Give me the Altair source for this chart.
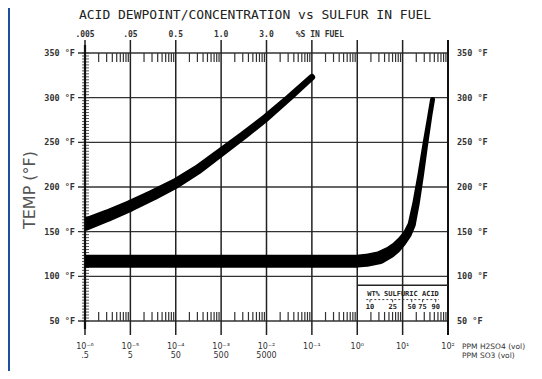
import altair as alt
import pandas as pd
import numpy as np

# ---- data ----
upper_log = [-6, -5.5, -5, -4.5, -4, -3.5, -3, -2.5, -2, -1.5, -1]
upper_temp = [158, 168, 179, 191, 204, 220, 239, 258, 278, 300, 323]

lower_log = [-6, -5, -4, -3, -2, -1, 0, 0.2, 0.5, 0.72, 0.85, 0.98, 1.1, 1.2, 1.3, 1.4, 1.5, 1.6, 1.66]
lower_temp = [117, 117, 117, 117, 117, 117, 117, 118, 121, 127, 132, 139, 147, 158, 183, 214, 248, 280, 298]

decades = [-6, -5, -4, -3, -2, -1, 0, 1, 2]
bottom_exp_labels = ["10⁻⁶", "10⁻⁵", "10⁻⁴", "10⁻³", "10⁻²", "10⁻¹", "10⁰", "10¹", "10²"]
bottom_so3_labels = [".5", "5", "50", "500", "5000", "", "", "", ""]
top_sulfur_labels = [".005", ".05", "0.5", "1.0", "3.0"]
top_last_label = "%S IN FUEL"
temp_ticks = [50, 100, 150, 200, 250, 300, 350]
acid_labels = ["10", "25", "50", "75", "90"]
acid_log = [0.28, 0.78, 1.2, 1.44, 1.73]
unit_labels = ["PPM H2SO4 (vol)", "PPM SO3 (vol)"]

W, H = 363, 268
xs = alt.Scale(type="log", domain=[1e-6, 1e2])
ys = alt.Scale(domain=[50, 350])
MONO = "DejaVu Sans Mono"
SANS = "DejaVu Sans"

up = pd.DataFrame({"lx": upper_log, "t": upper_temp})
up["x"] = 10.0 ** up["lx"]
lo = pd.DataFrame({"lx": lower_log, "t": lower_temp})
lo["x"] = 10.0 ** lo["lx"]

dec = pd.DataFrame({"lx": decades, "lab1": bottom_exp_labels, "lab2": bottom_so3_labels})
dec["x"] = 10.0 ** dec["lx"]
top = dec.iloc[: len(top_sulfur_labels)].copy()
top["lab"] = top_sulfur_labels
lastd = dec.iloc[[len(top_sulfur_labels)]].copy()
lastd["lab"] = [top_last_label]

minor = pd.DataFrame({"x": [d * 10.0 ** e for e in decades[:-1] for d in range(2, 10)]})
temps = pd.DataFrame({"t": temp_ticks})
temps["lab"] = [f"{v} °F" for v in temp_ticks]
ruler = pd.DataFrame({"t": np.arange(50, 350.01, 10 / 3)})
one = temps.iloc[[0]]

X = lambda f="x": alt.X(f"{f}:Q", scale=xs, axis=None)
Y = lambda f="t": alt.Y(f"{f}:Q", scale=ys, axis=None)

hgrid = alt.Chart(temps).mark_rule(color="#333", strokeWidth=1.3).encode(
    y=Y(), x=alt.value(-7), x2=alt.value(W))
vgrid = alt.Chart(dec).mark_rule(color="#222", strokeWidth=1.5).encode(
    x=X(), y=alt.value(-13), y2=alt.value(H + 14))
mtop = alt.Chart(minor).mark_rule(color="#333", strokeWidth=1.2).encode(
    x=X(), y=alt.value(0), y2=alt.value(9))
mbot = alt.Chart(minor).mark_rule(color="#333", strokeWidth=1.2).encode(
    x=X(), y=alt.value(H - 9), y2=alt.value(H))
lruler = alt.Chart(ruler).mark_rule(color="#444", strokeWidth=0.9).encode(
    y=Y(), x=alt.value(-3), x2=alt.value(4))
laxis = alt.Chart(one).mark_rule(color="#111", strokeWidth=2.2).encode(
    x=alt.value(0), y=alt.value(-8), y2=alt.value(H + 8))
raxis = alt.Chart(one).mark_rule(color="#111", strokeWidth=2).encode(
    x=alt.value(W), y=alt.value(-13), y2=alt.value(H + 14))

upper = alt.Chart(up).transform_calculate(
    w="13 - 1.3*(datum.lx + 6)").mark_trail(color="black", clip=True).encode(
    x=X(), y=Y(), size=alt.Size("w:Q", scale=None, legend=None))
lower = alt.Chart(lo).transform_calculate(
    w="datum.lx < 0.6 ? 13 : max(5, 13 - 8*(datum.lx - 0.6))").mark_trail(color="black", clip=True).encode(
    x=X(), y=Y(), size=alt.Size("w:Q", scale=None, legend=None))

llab = alt.Chart(temps).mark_text(align="right", baseline="middle", font=MONO, fontSize=8.5,
                                  color="#333", fontWeight="bold").encode(
    y=Y(), x=alt.value(-10), text="lab:N")
rlab = alt.Chart(temps).mark_text(align="left", baseline="middle", font=MONO, fontSize=8.5,
                                  color="#333", fontWeight="bold").encode(
    y=Y(), x=alt.value(W + 9), text="lab:N")

ytitle = alt.Chart(one).mark_text(angle=270, font=SANS, fontSize=16, color="#555",
                                  baseline="middle", align="center").encode(
    x=alt.value(-55), y=alt.value(137), text=alt.value("TEMP  (°F)"))
title = alt.Chart(one).mark_text(font=MONO, fontSize=13, color="#222",
                                 baseline="middle", align="center").encode(
    x=alt.value(170), y=alt.value(-38), text=alt.value("ACID DEWPOINT/CONCENTRATION vs SULFUR IN FUEL"))

toplab = alt.Chart(top).mark_text(font=MONO, fontSize=8, fontWeight="bold", color="#333",
                                  baseline="middle").encode(
    x=X(), y=alt.value(-18), text="lab:N")
toplast = alt.Chart(lastd).mark_text(font=MONO, fontSize=8, fontWeight="bold", color="#333",
                                     baseline="middle", dx=8).encode(
    x=X(), y=alt.value(-18), text="lab:N")
bot1 = alt.Chart(dec).mark_text(font=SANS, fontSize=8, color="#333", baseline="middle").encode(
    x=X(), y=alt.value(H + 26), text="lab1:N")
bot2 = alt.Chart(dec).mark_text(font=SANS, fontSize=8, color="#333", baseline="middle").encode(
    x=X(), y=alt.value(H + 35), text="lab2:N")
unit1 = alt.Chart(one).mark_text(font=SANS, fontSize=7.5, color="#333", align="left",
                                 baseline="middle").encode(
    x=alt.value(W + 14), y=alt.value(H + 26), text=alt.value(unit_labels[0]))
unit2 = alt.Chart(one).mark_text(font=SANS, fontSize=7.5, color="#333", align="left",
                                 baseline="middle").encode(
    x=alt.value(W + 14), y=alt.value(H + 35), text=alt.value(unit_labels[1]))

# acid box
box = pd.DataFrame({"x": [1.0], "x2": [100.0], "t": [90]})
boxline = alt.Chart(box).mark_rule(color="#222", strokeWidth=1.3).encode(
    x=X(), x2="x2:Q", y=Y())
acid = pd.DataFrame({"lx": acid_log, "lab": acid_labels})
acid["x"] = 10.0 ** acid["lx"]
acid["t1"] = 74
acid["t2"] = 71
acid["t3"] = 66
acidtxt = alt.Chart(box).mark_text(font=MONO, fontSize=7, fontWeight="bold", color="#222").encode(
    x=alt.value(W - 45), y=alt.value(241), text=alt.value("WT% SULFURIC ACID"))
acidline = alt.Chart(pd.DataFrame({"x": [10 ** 0.2], "x2": [10 ** 1.8], "t": [74]})).mark_rule(
    color="#444", strokeWidth=1, strokeDash=[2, 2]).encode(x=X(), x2="x2:Q", y=Y())
acidtick = alt.Chart(acid).mark_rule(color="#444", strokeWidth=1).encode(
    x=X(), y=Y("t1"), y2="t2:Q")
acidlab = alt.Chart(acid).mark_text(font=MONO, fontSize=7, fontWeight="bold", color="#222",
                                    baseline="middle").encode(x=X(), y=Y("t3"), text="lab:N")

strip = alt.Chart(box).mark_rect(color="#1d4f9a").encode(
    x=alt.value(-77), x2=alt.value(-75), y=alt.value(-45), y2=alt.value(H + 50))

chart = alt.layer(
    hgrid, vgrid, mtop, mbot, lruler, laxis, raxis, boxline, acidline, acidtick,
    upper, lower, llab, rlab, ytitle, title, toplab, toplast, bot1, bot2, unit1, unit2,
    acidtxt, acidlab, strip
).properties(
    width=W, height=H,
    autosize=alt.AutoSizeParams(type="none"),
    padding={"left": 77, "top": 45, "right": 86, "bottom": 50},
    background="white",
).configure_view(stroke=None)

chart.save("out.html", embed_options={"renderer": "svg", "actions": False})
